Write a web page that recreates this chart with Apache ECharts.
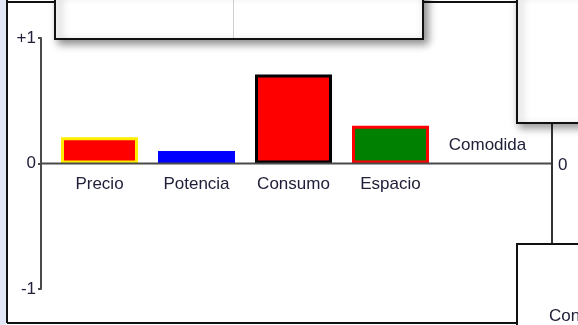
<!DOCTYPE html>
<html>
<head>
<meta charset="utf-8">
<script src="https://cdn.jsdelivr.net/npm/echarts@6/dist/echarts.min.js"></script>
<style>
html,body{margin:0;padding:0;background:#fff;}
#c{width:578px;height:325px;}
</style>
</head>
<body>
<div id="c"></div>
<script>
var categories = ['Precio', 'Potencia', 'Consumo', 'Espacio', 'Comodida'];
var values = [0.21, 0.1, 0.71, 0.3, 0];
var fillColors = ['#ff0000', '#0000ff', '#ff0000', '#008000', '#ffffff'];
var borderColors = ['#ffee00', '#0000ff', '#000000', '#ff0000', '#ffffff'];
var borderWidths = [3, 0, 3, 3, 0];
var yMin = -1, yMax = 1, yStep = 1;

var FONT = 'Liberation Sans';
var TXT = '#20203a';

var chart = echarts.init(document.getElementById('c'), null, {renderer: 'canvas'});

var data = values.map(function (v, i) {
  var item = {
    value: v,
    itemStyle: {color: fillColors[i], borderColor: borderColors[i], borderWidth: borderWidths[i]}
  };
  if (i === categories.length - 1) {
    item.label = {show: true, position: 'top', distance: 10, formatter: categories[i],
      fontFamily: FONT, fontSize: 17, color: TXT};
  }
  return item;
});

var option = {
  animation: false,
  backgroundColor: '#ffffff',
  grid: {left: 51, right: 42, top: 38, bottom: 36, containLabel: false},
  xAxis: {
    type: 'category',
    data: categories,
    axisLine: {show: false, onZero: true},
    axisTick: {show: false},
    splitLine: {show: false},
    axisLabel: {
      margin: 12,
      fontFamily: FONT, fontSize: 17, color: TXT,
      formatter: function (v) { return v === categories[categories.length - 1] ? '' : v; }
    }
  },
  yAxis: {
    type: 'value',
    min: yMin, max: yMax, interval: yStep,
    offset: 10,
    axisLine: {show: true, lineStyle: {color: '#4a4a4a', width: 2}},
    axisTick: {show: true, length: 3, lineStyle: {color: '#4a4a4a', width: 2}},
    splitLine: {show: false},
    axisLabel: {
      margin: 5,
      fontFamily: FONT, fontSize: 17, color: TXT,
      formatter: function (v) { return v > 0 ? '+' + v : String(v); }
    }
  },
  series: [{
    type: 'bar',
    data: data,
    barWidth: 77,
    z: 3
  }]
};
chart.setOption(option);

var y0 = chart.convertToPixel({yAxisIndex: 0}, 0);
var yBottom = chart.convertToPixel({yAxisIndex: 0}, yMin);
var xAxisLeft = chart.convertToPixel({xAxisIndex: 0}, categories[0]) - 58.5;

var line = function (x1, y1, x2, y2, color, w, z) {
  return {type: 'line', z: z || 10, silent: true,
    shape: {x1: x1, y1: y1, x2: x2, y2: y2},
    style: {stroke: color || '#111', lineWidth: w || 2}};
};

chart.setOption({
  xAxis: {axisLabel: {margin: 12 - (yBottom - y0)}},
  graphic: [
    {type: 'rect', z: 5, shape: {x: 0, y: 0, width: 6, height: 325}, style: {fill: '#e2e7f5'}},
    line(xAxisLeft, y0, 552, y0, '#4a4a4a', 2, 6),
    line(7, 0, 7, 323, '#111', 2),
    line(7, 323, 517, 323, '#111', 2),
    line(7, 2, 56, 2, '#111', 2),
    line(423, 2, 517, 2, '#111', 2),
    {type: 'rect', z: 20, shape: {x: 55, y: -10, width: 368, height: 49},
      style: {fill: '#ffffff', stroke: '#111', lineWidth: 2,
        shadowBlur: 8, shadowOffsetX: 4, shadowOffsetY: 4, shadowColor: 'rgba(0,0,0,0.45)'}},
    {type: 'line', z: 21, shape: {x1: 233.5, y1: 0, x2: 233.5, y2: 38},
      style: {stroke: '#cfcfcf', lineWidth: 1}},
    {type: 'rect', z: 20, shape: {x: 517, y: -10, width: 80, height: 133},
      style: {fill: '#ffffff', stroke: '#111', lineWidth: 2,
        shadowBlur: 8, shadowOffsetX: 3, shadowOffsetY: 4, shadowColor: 'rgba(0,0,0,0.4)'}},
    line(552, 123, 552, 244, '#333', 2, 9),
    {type: 'text', z: 10, style: {x: 558, y: 165, text: '0', fontFamily: FONT, fontSize: 17,
      fill: TXT, verticalAlign: 'middle', align: 'left'}},
    {type: 'rect', z: 20, shape: {x: 517, y: 244, width: 80, height: 100},
      style: {fill: '#ffffff', stroke: '#111', lineWidth: 2}},
    {type: 'text', z: 21, style: {x: 549, y: 316, text: 'Consumo', fontFamily: FONT, fontSize: 17,
      fill: TXT, verticalAlign: 'middle', align: 'left'}}
  ]
});
</script>
</body>
</html>
